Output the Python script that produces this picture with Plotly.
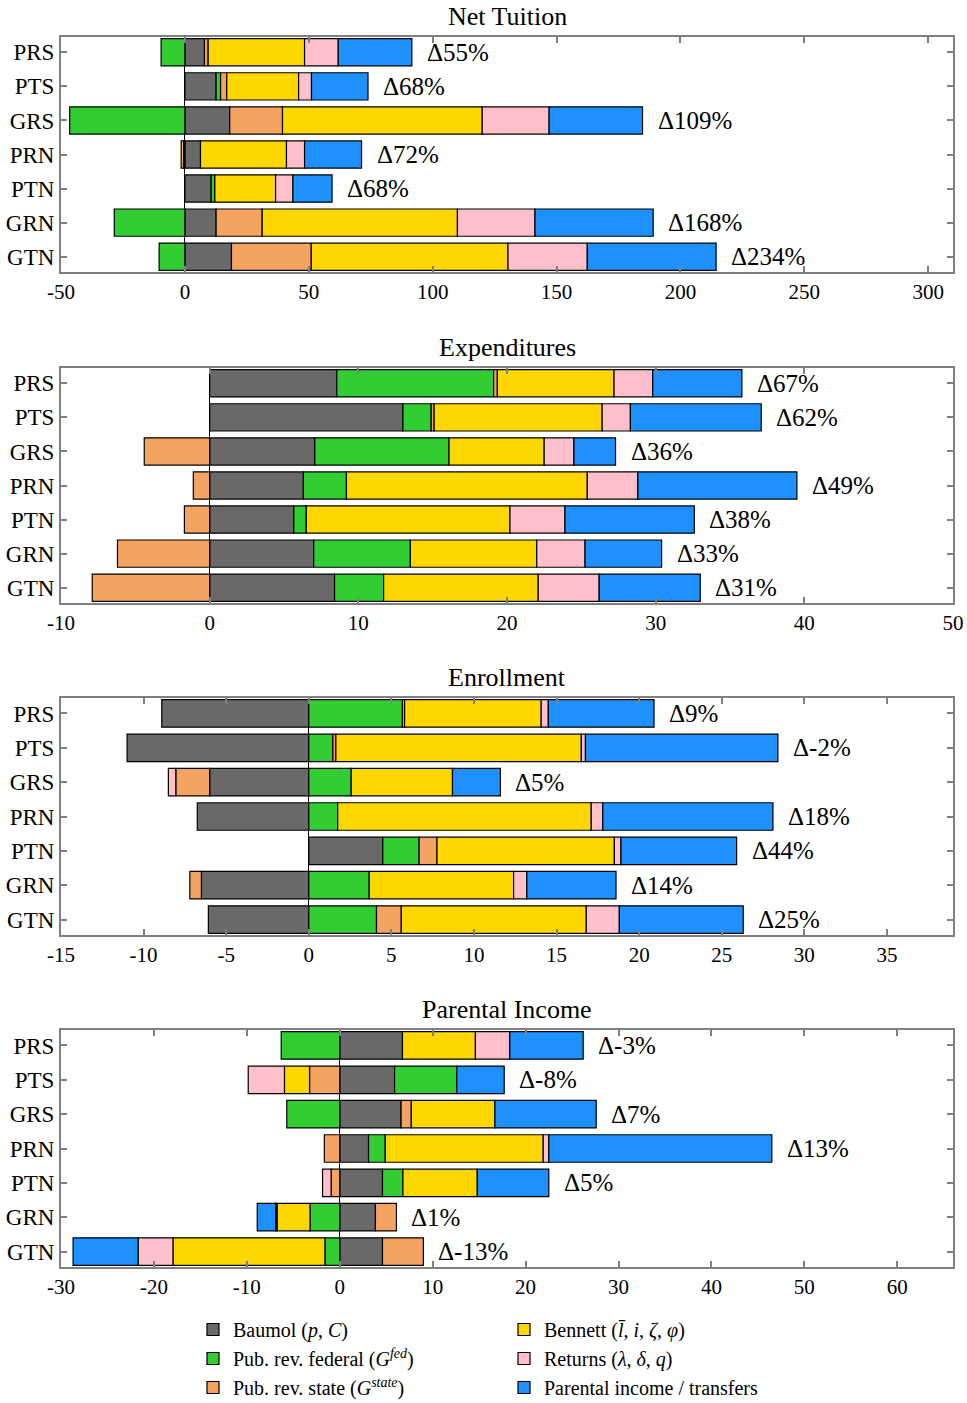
import plotly.graph_objects as go

categories = ["PRS", "PTS", "GRS", "PRN", "PTN", "GRN", "GTN"]

component_names = [
    "Baumol (<i>p</i>, <i>C</i>)",
    "Pub. rev. federal (<i>G</i><sup><i>fed</i></sup>)",
    "Pub. rev. state (<i>G</i><sup><i>state</i></sup>)",
    "Bennett (<i>l̄</i>, <i>i</i>, <i>ζ</i>, <i>φ</i>)",
    "Returns (<i>λ</i>, <i>δ</i>, <i>q</i>)",
    "Parental income / transfers",
]
component_colors = ["#696969", "#32CD32", "#F4A460", "#FFD700", "#FFC0CB", "#1E90FF"]
legend_ranks = [1, 3, 5, 2, 4, 6]

panel_titles = ["Net Tuition", "Expenditures", "Enrollment", "Parental Income"]

# Net Tuition
nt_baumol = [7.9, 12.6, 18.1, 6.3, 10.6, 12.6, 18.8]
nt_federal = [-9.6, 1.8, -46.5, -0.5, 1.5, -28.5, -10.4]
nt_state = [1.5, 2.5, 21.3, -1.0, None, 18.6, 32.2]
nt_bennett = [38.9, 29.0, 80.6, 34.7, 24.5, 78.8, 79.4]
nt_returns = [13.6, 5.2, 27.0, 7.3, 7.0, 31.3, 32.0]
nt_parental = [29.7, 22.8, 37.7, 23.0, 15.8, 47.7, 52.0]
nt_delta = [55, 68, 109, 72, 68, 168, 234]

# Expenditures
ex_baumol = [8.55, 13.0, 7.07, 6.3, 5.66, 7.0, 8.4]
ex_federal = [10.55, 1.9, 9.03, 2.9, 0.84, 6.5, 3.3]
ex_state = [0.25, 0.2, -4.4, -1.1, -1.7, -6.2, -7.9]
ex_bennett = [7.85, 11.3, 6.4, 16.2, 13.7, 8.5, 10.4]
ex_returns = [2.6, 1.9, 2.0, 3.4, 3.7, 3.25, 4.1]
ex_parental = [6.0, 8.8, 2.8, 10.7, 8.7, 5.15, 6.8]
ex_delta = [67, 62, 36, 49, 38, 33, 31]

# Enrollment
en_baumol = [-8.9, -11.0, -6.0, -6.75, 4.48, -6.5, -6.08]
en_federal = [5.67, 1.46, 2.57, 1.75, 2.2, 3.66, 4.1]
en_state = [0.13, 0.18, -2.05, None, 1.08, -0.7, 1.5]
en_bennett = [8.27, 14.86, 6.13, 15.35, 10.74, 8.74, 11.2]
en_returns = [0.43, 0.25, -0.45, 0.7, 0.4, 0.8, 2.0]
en_parental = [6.4, 11.65, 2.9, 10.3, 7.0, 5.4, 7.5]
en_delta = [9, -2, 5, 18, 44, 14, 25]

# Parental Income
pi_baumol = [6.75, 5.9, 6.6, 3.1, 4.6, 3.84, 4.6]
pi_federal = [-6.3, 6.7, -5.7, 1.8, 2.2, -3.2, -1.6]
pi_state = [None, -3.25, 1.1, -1.66, -0.93, 2.26, 4.4]
pi_bennett = [7.85, -2.7, 9.0, 17.0, 8.0, -3.55, -16.35]
pi_returns = [3.7, -3.9, None, 0.6, -0.92, -0.13, -3.75]
pi_parental = [7.9, 5.1, 10.9, 24.0, 7.7, -2.0, -7.0]
pi_delta = [-3, -8, 7, 13, 5, 1, -13]

# axis ticks
nt_ticks = [-50, 0, 50, 100, 150, 200, 250, 300]
ex_ticks = [-10, 0, 10, 20, 30, 40, 50]
en_ticks = [-15, -10, -5, 0, 5, 10, 15, 20, 25, 30, 35]
pi_ticks = [-30, -20, -10, 0, 10, 20, 30, 40, 50, 60]
nt_tick_labels = ["-50", "0", "50", "100", "150", "200", "250", "300"]
ex_tick_labels = ["-10", "0", "10", "20", "30", "40", "50"]
en_tick_labels = ["-15", "-10", "-5", "0", "5", "10", "15", "20", "25", "30", "35"]
pi_tick_labels = ["-30", "-20", "-10", "0", "10", "20", "30", "40", "50", "60"]

panels = [
    ([nt_baumol, nt_federal, nt_state, nt_bennett, nt_returns, nt_parental], nt_delta,
     nt_ticks, nt_tick_labels, [-50, 310]),
    ([ex_baumol, ex_federal, ex_state, ex_bennett, ex_returns, ex_parental], ex_delta,
     ex_ticks, ex_tick_labels, [-10, 50]),
    ([en_baumol, en_federal, en_state, en_bennett, en_returns, en_parental], en_delta,
     en_ticks, en_tick_labels, [-15, 39]),
    ([pi_baumol, pi_federal, pi_state, pi_bennett, pi_returns, pi_parental], pi_delta,
     pi_ticks, pi_tick_labels, [-30, 66]),
]

W, H = 967, 1403
frames_px = [(37, 272), (368, 603), (698, 935), (1030, 1267)]
FONT = "Liberation Serif"
PLOT_L, PLOT_R = 61, 953
PW = PLOT_R - PLOT_L

fig = go.Figure()
layout = dict(
    width=W, height=H,
    margin=dict(l=PLOT_L, r=W - PLOT_R, t=0, b=0, autoexpand=False),
    paper_bgcolor="white", plot_bgcolor="white",
    barmode="relative", bargap=0.2,
    font=dict(family=FONT, size=21, color="black"),
    showlegend=True,
)
annotations = []

for pi, (series, deltas, tv, tt, xr) in enumerate(panels):
    xa = "x" if pi == 0 else f"x{pi + 1}"
    ya = "y" if pi == 0 else f"y{pi + 1}"
    for ci, vals in enumerate(series):
        fig.add_trace(go.Bar(
            y=categories, x=vals, orientation="h",
            name=component_names[ci],
            marker=dict(color=component_colors[ci], line=dict(color="black", width=1.2)),
            xaxis=xa, yaxis=ya,
            showlegend=(pi == 0), legendrank=legend_ranks[ci],
            hoverinfo="x+y+name",
        ))
    top, bot = frames_px[pi]
    dom = [1 - bot / H, 1 - top / H]
    axis_common = dict(
        showline=True, linecolor="#808080", linewidth=2, mirror="ticks",
        ticks="inside", ticklen=6, tickwidth=1.5, tickcolor="#808080",
        showgrid=False,
    )
    layout["xaxis" if pi == 0 else f"xaxis{pi + 1}"] = dict(
        domain=[0, 1], anchor=ya, range=xr, tickmode="array",
        tickvals=tv, ticktext=tt, zeroline=True, zerolinecolor="black",
        zerolinewidth=1, tickfont=dict(size=21), **axis_common,
    )
    layout["yaxis" if pi == 0 else f"yaxis{pi + 1}"] = dict(
        domain=dom, anchor=xa, type="category", categoryorder="array",
        categoryarray=categories, range=[6.45, -0.45], zeroline=False,
        tickfont=dict(size=23), ticklabelstandoff=0, **axis_common,
    )
    annotations.append(dict(
        text=panel_titles[pi], xref="paper", yref="paper", x=0.5, y=dom[1],
        xanchor="center", yanchor="bottom", yshift=4, showarrow=False,
        font=dict(size=26),
    ))
    for ri, cat in enumerate(categories):
        pos_end = sum(v for s in series for v in [s[ri]] if v is not None and v > 0)
        annotations.append(dict(
            text=f"Δ{deltas[ri]}%", xref=xa, yref=ya, x=pos_end, y=cat,
            xanchor="left", yanchor="middle", xshift=13, showarrow=False,
            font=dict(size=25),
        ))

layout["annotations"] = annotations
layout["legend"] = dict(
    orientation="h", x=(193 - PLOT_L) / PW, y=1 - 1310 / H, yref="container",
    xanchor="left", yanchor="top",
    entrywidth=266, entrywidthmode="pixels", traceorder="normal",
    font=dict(size=20), bgcolor="rgba(0,0,0,0)", itemwidth=30, tracegroupgap=0,
)
fig.update_layout(**layout)
fig.write_html("out.html", config={"displayModeBar": False},
               post_script="document.body.style.margin='0px';")
